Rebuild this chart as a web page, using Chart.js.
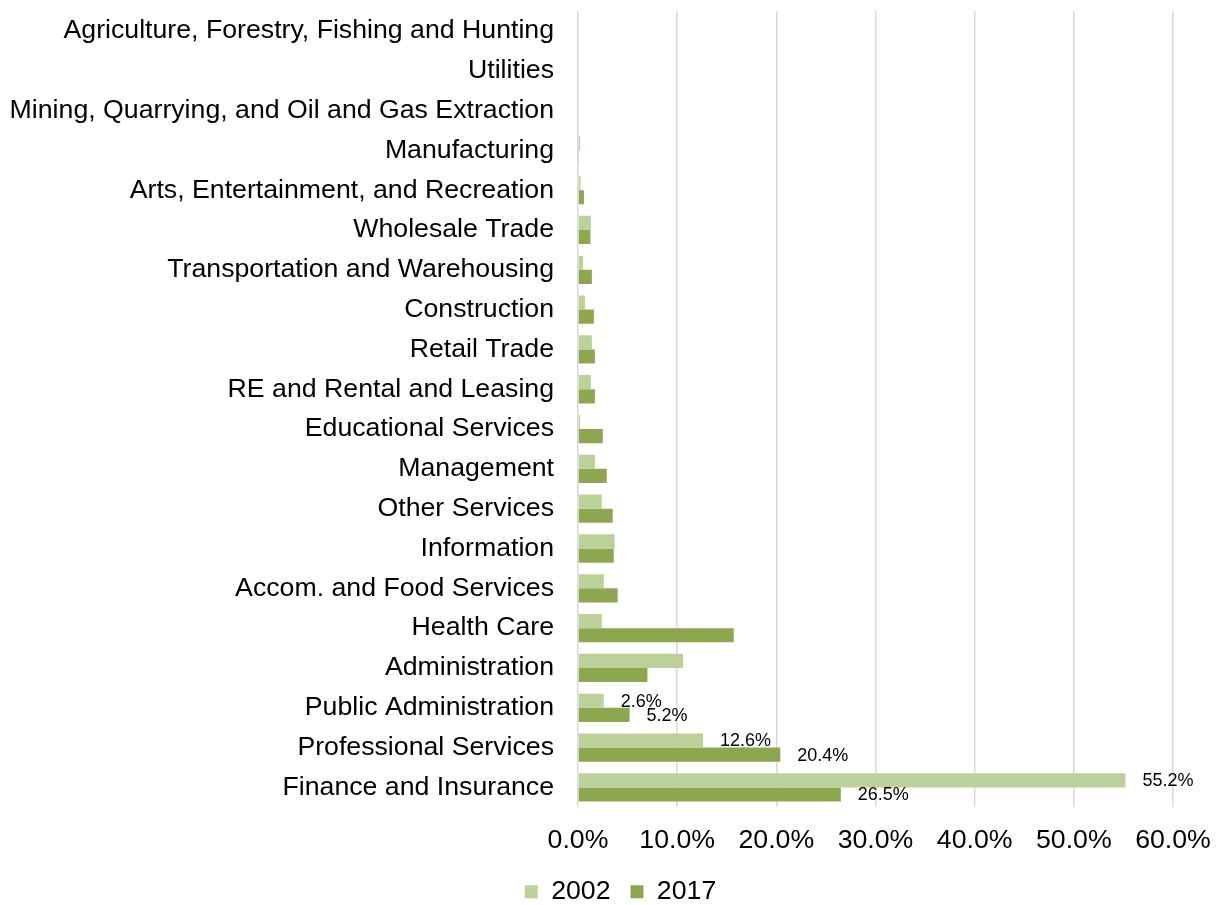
<!DOCTYPE html>
<html>
<head>
<meta charset="utf-8">
<script src="https://cdn.jsdelivr.net/npm/chart.js@4"></script>
<style>
  body { margin: 0; background: #fff; }
  #wrap { width: 1221px; height: 905px; }
</style>
</head>
<body>
<div id="wrap"><canvas id="industryChart"></canvas></div>
<script>
// Share of jobs by industry, 2002 vs 2017 (percent)
const categories = [
    "Agriculture, Forestry, Fishing and Hunting",
    "Utilities",
    "Mining, Quarrying, and Oil and Gas Extraction",
    "Manufacturing",
    "Arts, Entertainment, and Recreation",
    "Wholesale Trade",
    "Transportation and Warehousing",
    "Construction",
    "Retail Trade",
    "RE and Rental and Leasing",
    "Educational Services",
    "Management",
    "Other Services",
    "Information",
    "Accom. and Food Services",
    "Health Care",
    "Administration",
    "Public Administration",
    "Professional Services",
    "Finance and Insurance",
];
const values2002 = [0, 0, 0, 0.2, 0.25, 1.3, 0.5, 0.7, 1.4, 1.3, 0.2, 1.7, 2.4, 3.7, 2.6, 2.4, 10.6, 2.6, 12.6, 55.2];
const values2017 = [0, 0, 0, 0.1, 0.6, 1.25, 1.4, 1.6, 1.7, 1.7, 2.5, 2.9, 3.5, 3.6, 4.0, 15.7, 7.0, 5.2, 20.4, 26.5];
const xTicks = [0, 10, 20, 30, 40, 50, 60];
// only these categories carry value labels in the original
const labelledCategories = ["Public Administration", "Professional Services", "Finance and Insurance"];

Chart.defaults.font.family = "'Liberation Sans', Arial, sans-serif";
Chart.defaults.color = "#000";

const bigFont = { size: 26.7 };

const valueLabels = {
    id: "valueLabels",
    afterDatasetsDraw(chart) {
        const ctx = chart.ctx;
        ctx.save();
        ctx.font = "18px 'Liberation Sans', Arial, sans-serif";
        ctx.fillStyle = "#000";
        ctx.textAlign = "left";
        ctx.textBaseline = "middle";
        chart.data.datasets.forEach((ds, di) => {
            const meta = chart.getDatasetMeta(di);
            labelledCategories.forEach((name) => {
                const i = categories.indexOf(name);
                const bar = meta.data[i];
                ctx.fillText(ds.data[i].toFixed(1) + "%", bar.x + 17, bar.y + 1);
            });
        });
        ctx.restore();
    },
};

new Chart(document.getElementById("industryChart").getContext("2d"), {
    type: "bar",
    data: {
        labels: categories,
        datasets: [
            {
                label: "2002",
                data: values2002,
                backgroundColor: "#BCD09A",
                categoryPercentage: 0.71,
                barPercentage: 1.0,
            },
            {
                label: "2017",
                data: values2017,
                backgroundColor: "#8CA74F",
                categoryPercentage: 0.71,
                barPercentage: 1.0,
            },
        ],
    },
    options: {
        indexAxis: "y",
        responsive: true,
        maintainAspectRatio: false,
        animation: false,
        layout: {
            padding: { top: 11, right: -20, left: 0, bottom: -10 },
        },
        plugins: {
            legend: {
                display: true,
                position: "bottom",
                labels: {
                    boxWidth: 13,
                    boxHeight: 13,
                    padding: 20,
                    font: bigFont,
                    color: "#000",
                },
            },
            tooltip: { enabled: false },
        },
        scales: {
            x: {
                min: 0,
                max: 60,
                afterBuildTicks: (scale) => {
                    scale.ticks = xTicks.map((v) => ({ value: v }));
                },
                afterFit: (scale) => {
                    scale.height = 51;
                    scale.paddingLeft = 0;
                    scale.paddingRight = 0;
                },
                ticks: {
                    font: bigFont,
                    color: "#000",
                    padding: 17,
                    callback: (v) => v.toFixed(1) + "%",
                },
                grid: {
                    color: "#d9d9d9",
                    lineWidth: 1.5,
                    drawTicks: false,
                },
                border: { display: false },
            },
            y: {
                afterFit: (scale) => {
                    scale.width = 578;
                    scale.paddingTop = 0;
                    scale.paddingBottom = 0;
                },
                ticks: {
                    font: bigFont,
                    color: "#000",
                    padding: 24,
                    autoSkip: false,
                },
                grid: { display: false, drawTicks: false },
                border: { display: false },
            },
            yRight: {
                type: "linear",
                position: "right",
                display: true,
                ticks: { display: false },
                grid: { display: false, drawTicks: false },
                border: { display: false },
                afterFit: (scale) => {
                    scale.width = 68;
                    scale.paddingTop = 0;
                    scale.paddingBottom = 0;
                },
            },
        },
    },
    plugins: [valueLabels],
});
</script>
</body>
</html>
